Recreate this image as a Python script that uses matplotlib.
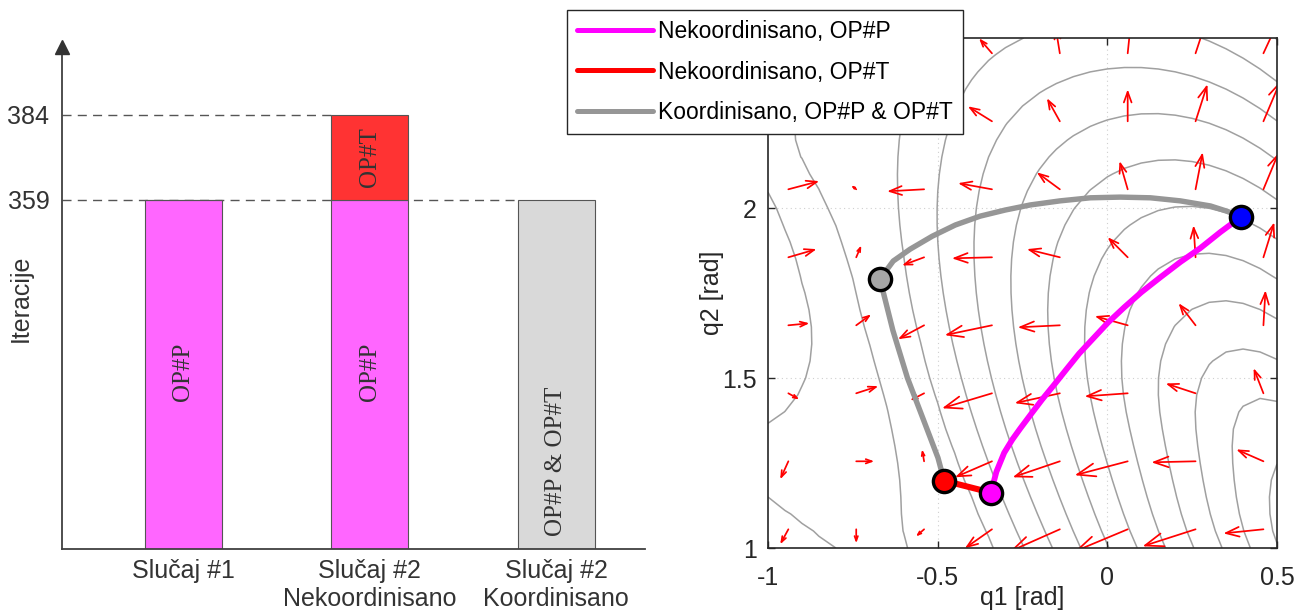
import numpy as np
import matplotlib
matplotlib.use("Agg")
import matplotlib.pyplot as plt
from matplotlib.patches import FancyArrowPatch

plt.rcParams['font.family'] = ['Liberation Sans', 'DejaVu Sans']
plt.rcParams['axes.unicode_minus'] = False

# ---------------- left panel: iteration counts ----------------
case_labels = ['Slučaj #1', 'Slučaj #2\nNekoordinisano', 'Slučaj #2\nKoordinisano']
iter_op_p = [359, 359, 0]        # OP#P part of each run
iter_op_t_total = [0, 384, 0]    # OP#P + OP#T in the uncoordinated run
iter_coord = [0, 0, 359]         # coordinated OP#P & OP#T
ref_ticks = [359, 384]

# ---------------- right panel: joint-space paths ----------------
# uncoordinated OP#P path (magenta)
path_p_q1 = [-0.343, -0.327, -0.304, -0.280, -0.257, -0.224, -0.192, -0.156, -0.121, -0.083,
             -0.041, 0.003, 0.050, 0.100, 0.156, 0.215, 0.274, 0.333, 0.394]
path_p_q2 = [1.163, 1.224, 1.280, 1.319, 1.351, 1.395, 1.437, 1.481, 1.525, 1.572,
             1.617, 1.664, 1.708, 1.752, 1.796, 1.841, 1.882, 1.929, 1.974]
# uncoordinated OP#T path (red)
path_t_q1 = [-0.481, -0.343]
path_t_q2 = [1.198, 1.163]
# coordinated path (gray): up to the via point, then over to the goal
path_c_q1 = [-0.481, -0.499, -0.543, -0.589, -0.632, -0.670,
             -0.631, -0.581, -0.516, -0.448, -0.375, -0.301, -0.227, -0.139, -0.050,
             0.038, 0.127, 0.215, 0.304, 0.354, 0.394]
path_c_q2 = [1.198, 1.265, 1.380, 1.500, 1.640, 1.791,
             1.844, 1.879, 1.917, 1.950, 1.976, 1.994, 2.009, 2.021, 2.030,
             2.032, 2.030, 2.021, 2.006, 1.990, 1.974]
# key configurations
start_p = (-0.343, 1.163)
start_t = (-0.481, 1.198)
via_c = (-0.670, 1.791)
goal = (0.394, 1.974)

# gradient arrows on a regular grid (rows from bottom to top)
quiver_q1 = [-0.94, -0.74, -0.54, -0.34, -0.14, 0.06, 0.26, 0.46]
quiver_q2 = [1.055, 1.255, 1.455, 1.655, 1.855, 2.055, 2.255, 2.455]
quiver_u = [
    [-0.024, 0.000, -0.024, -0.080, -0.147, -0.156, -0.156, -0.118],
    [-0.024, 0.053, -0.006, -0.109, -0.139, -0.156, -0.130, -0.080],
    [0.032, 0.065, -0.041, -0.147, -0.133, -0.127, -0.088, -0.029],
    [0.062, 0.044, -0.077, -0.139, -0.124, -0.097, -0.050, 0.006],
    [0.083, 0.015, -0.065, -0.118, -0.097, -0.059, -0.006, 0.032],
    [0.091, -0.015, -0.109, -0.100, -0.068, -0.024, 0.021, 0.044],
    [-0.029, -0.035, -0.044, -0.071, -0.038, 0.000, 0.035, 0.050],
    [-0.018, -0.024, -0.029, -0.038, -0.012, 0.009, 0.029, 0.041],
]
quiver_v = [
    [-0.044, -0.041, -0.021, -0.056, -0.065, -0.065, -0.050, -0.012],
    [-0.053, 0.000, 0.035, -0.047, -0.047, -0.041, -0.003, 0.035],
    [-0.018, 0.021, -0.021, -0.044, -0.029, -0.009, 0.029, 0.074],
    [0.006, 0.032, -0.041, -0.029, -0.006, 0.027, 0.065, 0.103],
    [0.024, 0.035, -0.024, -0.003, 0.024, 0.059, 0.094, 0.103],
    [0.024, 0.012, -0.006, 0.018, 0.050, 0.083, 0.109, 0.106],
    [0.029, 0.035, 0.035, 0.044, 0.068, 0.094, 0.109, 0.118],
    [0.029, 0.035, 0.035, 0.044, 0.074, 0.088, 0.088, 0.088],
]

C_MAG = '#ff00ff'
C_RED = '#ff0000'
C_GRAY = '#969696'
C_BAR_P = '#ff66ff'
C_BAR_T = '#ff3333'
C_BAR_C = '#d9d9d9'


def smoothstep(t):
    t = np.clip(t, 0.0, 1.0)
    return t * t * (3 - 2 * t)


def joint_cost(q1, q2):
    """Task cost over the joint plane (minimum past the lower-right corner)."""
    q2w = q2 - 0.12 * smoothstep((q1 + 0.3) / 0.8) * smoothstep((q2 - 1.0) / 0.4)
    dx = q1 - 0.6
    dy = q2w - 1.0
    rho = np.sqrt(1.807 * dx ** 2 + 1.678 * dx * dy + 0.946 * dy ** 2)
    # the cost flattens into a plateau towards the left edge
    a = 0.18 + 0.085 * smoothstep((q2 - 1.0) / 0.55) - 0.08 * smoothstep((q2 - 1.75) / 0.45)
    knee = 1.2
    base = np.where(rho < knee, rho, knee + a * (1 - np.exp(-(rho - knee) / a)))
    # two shallow basins on the plateau (left edge and lower-left corner)
    top = 1.36
    cA = -1.15 - 0.2 * (q2 - 1.7)
    ryA = np.where(q2 > 1.7, 0.6, 0.35)
    rA = np.sqrt(((q1 - cA) / 0.268) ** 2 + ((q2 - 1.7) / ryA) ** 2)
    rC = np.abs(q1 + 1.0) / 0.2 + np.abs(q2 - 1.0) / 0.15
    sA = np.clip((rA - 1) / 0.4, -0.5, 1.0)
    sC = np.clip((rC - 1) / 0.4, -0.5, 1.0)
    return np.where(base > top, top + (base - top) * sA * sC, base)


W, H = 1298, 613
fig = plt.figure(figsize=(W / 100, H / 100), dpi=100)

# ======================= left panel =======================
axL = fig.add_axes([62 / W, 1 - 549 / H, (645 - 62) / W, (549 - 47) / H])
x = np.arange(1, 4)
bw = 0.413
axL.set_xlim(0.351, 3.477)
axL.set_ylim(256.35, 404.0)

# reference dashed levels
axL.plot([0.351, 2 - bw / 2], [ref_ticks[1]] * 2, ls=(0, (6.5, 4.5)), color='#555555', lw=1.0, zorder=1)
axL.plot([0.351, 3 - bw / 2], [ref_ticks[0]] * 2, ls=(0, (6.5, 4.5)), color='#555555', lw=1.0, zorder=1)

op_t_part = [tot - p if tot else 0 for tot, p in zip(iter_op_t_total, iter_op_p)]
axL.bar(x, iter_op_p, bw, color=C_BAR_P, edgecolor='#555555', lw=0.8, zorder=2)
axL.bar(x, op_t_part, bw, bottom=iter_op_p, color=C_BAR_T, edgecolor='#555555', lw=0.8, zorder=2)
axL.bar(x, iter_coord, bw, color=C_BAR_C, edgecolor='#555555', lw=0.8, zorder=2)

serif = ['Liberation Serif', 'DejaVu Serif']
axL.text(1, 308.4, 'OP#P', rotation=90, ha='center', va='center', fontsize=18, family=serif, color='#333333', zorder=3)
axL.text(2, 308.4, 'OP#P', rotation=90, ha='center', va='center', fontsize=18, family=serif, color='#333333', zorder=3)
axL.text(2, (iter_op_p[1] + iter_op_t_total[1]) / 2, 'OP#T', rotation=90, ha='center', va='center',
         fontsize=18, family=serif, color='#333333', zorder=3)
axL.text(3, 282.0, 'OP#P & OP#T', rotation=90, ha='center', va='center', fontsize=18, family=serif,
         color='#333333', zorder=3)

axL.set_yticks(ref_ticks)
axL.set_yticklabels([str(v) for v in ref_ticks])
axL.set_xticks(x)
axL.set_xticklabels(case_labels)
axL.tick_params(axis='y', length=0, pad=9, labelsize=18, labelcolor='#333333')
axL.tick_params(axis='x', length=0, pad=7, labelsize=18, labelcolor='#333333')
for s in ('top', 'right'):
    axL.spines[s].set_visible(False)
for s in ('left', 'bottom'):
    axL.spines[s].set_color('#404040')
    axL.spines[s].set_linewidth(1.3)
axL.plot([0], [1], marker='^', ms=10, color='#333333', transform=axL.transAxes, clip_on=False, zorder=5)
axL.set_ylabel('Iteracije', fontsize=18, color='#333333')
axL.yaxis.set_label_coords(-0.05, 0.5)

# ======================= right panel =======================
axR = fig.add_axes([768 / W, 1 - 548 / H, 509 / W, 510 / H])
axR.set_xlim(-1, 0.5)
axR.set_ylim(1, 2.5)

g1, g2 = np.meshgrid(np.linspace(-1, 0.5, 31), np.linspace(1, 2.5, 31))
levels = 1.36 - 0.112 * np.arange(12)[::-1]
axR.contour(g1, g2, joint_cost(g1, g2), levels=levels, colors='#a0a0a0', linewidths=1.1, zorder=1)

for xv in (-0.5, 0.0):
    axR.axvline(xv, color='#cfcfcf', ls=(0, (1, 3)), lw=0.8, zorder=0.5)
for yv in (1.5, 2.0):
    axR.axhline(yv, color='#cfcfcf', ls=(0, (1, 3)), lw=0.8, zorder=0.5)

# gradient arrows with heads proportional to their length
fig.canvas.draw()
for j, qv in enumerate(quiver_q2):
    for i, qu in enumerate(quiver_q1):
        u, v = quiver_u[j][i], quiver_v[j][i]
        p0 = axR.transData.transform((qu, qv))
        p1 = axR.transData.transform((qu + u, qv + v))
        L = np.hypot(*(p1 - p0)) * 72 / fig.dpi
        if L < 0.5:
            continue
        arr = FancyArrowPatch((qu, qv), (qu + u, qv + v),
                              arrowstyle='->,head_length=%.2f,head_width=%.2f' % (0.33 * L, 0.12 * L),
                              mutation_scale=1, color=C_RED, lw=1.25, shrinkA=0, shrinkB=0, zorder=2)
        axR.add_patch(arr)

lc, = axR.plot(path_c_q1, path_c_q2, color=C_GRAY, lw=3.9, solid_capstyle='round',
               solid_joinstyle='round', zorder=3, label='Koordinisano, OP#P & OP#T')
lp, = axR.plot(path_p_q1, path_p_q2, color=C_MAG, lw=4.2, solid_capstyle='round',
               solid_joinstyle='round', zorder=3.2, label='Nekoordinisano, OP#P')
lt, = axR.plot(path_t_q1, path_t_q2, color=C_RED, lw=4.4, solid_capstyle='round', zorder=3.1,
               label='Nekoordinisano, OP#T')

for (px, py), fc in ((via_c, '#a6a6a6'), (start_t, C_RED), (start_p, C_MAG), (goal, '#0000ff')):
    axR.plot(px, py, 'o', ms=16, mfc=fc, mec='black', mew=2.4, zorder=4)

axR.set_xticks([-1, -0.5, 0, 0.5])
axR.set_xticklabels(['-1', '-0.5', '0', '0.5'])
axR.set_yticks([1, 1.5, 2])
axR.set_yticklabels(['1', '1.5', '2'])
axR.tick_params(direction='in', length=5, width=1.0, top=True, right=True, labelsize=18,
                labelcolor='#262626', color='#262626')
axR.tick_params(axis='x', pad=13)
axR.tick_params(axis='y', pad=8)
for s in axR.spines.values():
    s.set_color('#262626')
    s.set_linewidth(1.2)
axR.set_xlabel('q1 [rad]', fontsize=18, color='#262626')
axR.xaxis.set_label_coords(0.5, -0.075)
axR.set_ylabel('q2 [rad]', fontsize=18, color='#262626')
axR.yaxis.set_label_coords(-0.086, 0.5)

leg = axR.legend(handles=[lp, lt, lc], loc='upper left', bbox_to_anchor=(567 / W, 1 - 10 / H),
                 bbox_transform=fig.transFigure, borderaxespad=0, fontsize=16.5, frameon=True,
                 fancybox=False, framealpha=1, edgecolor='#262626', handlelength=3.3,
                 handletextpad=0.2, labelspacing=0.75, borderpad=0.45)
leg.get_frame().set_linewidth(1.0)
for hl in leg.get_lines():
    hl.set_linewidth(3.6)
leg.set_zorder(10)

fig.savefig('out.png', dpi=100)
